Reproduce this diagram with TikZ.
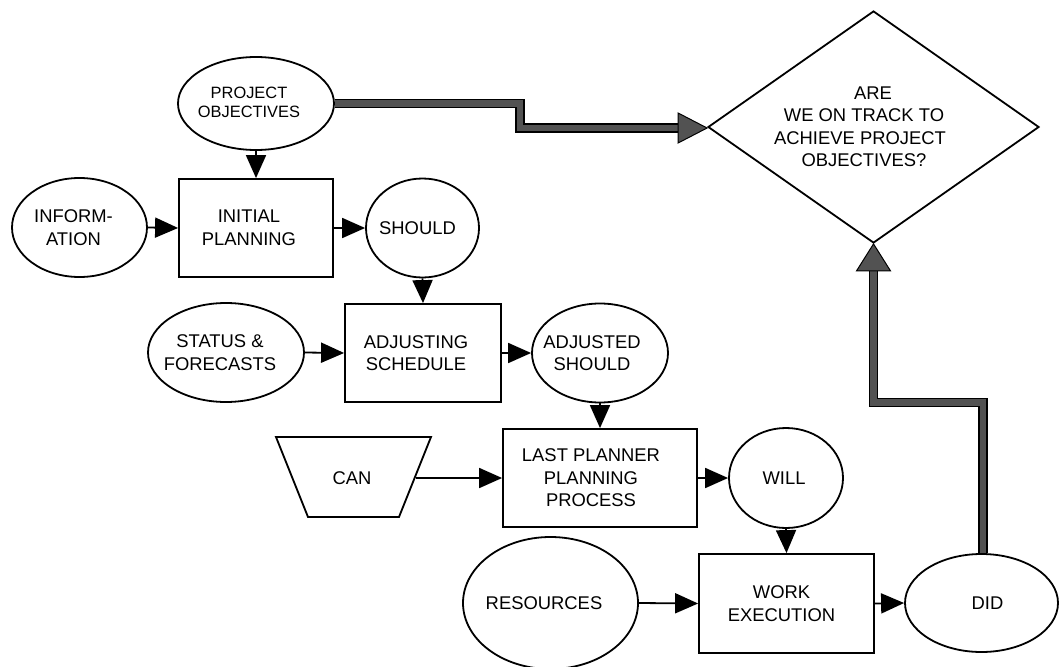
\documentclass[tikz,border=0pt]{standalone}
\usepackage{fontspec}
\setmainfont{Liberation Sans}
\usetikzlibrary{shapes.geometric, arrows.meta}

\begin{document}
\begin{tikzpicture}[x=1pt, y=-1pt,
  shp/.style={draw=black, line width=1.8pt, inner sep=0pt, fill=white},
  oval/.style={shp, ellipse},
  box/.style={shp, rectangle},
  txt/.style={align=center, inner sep=0pt, font=\fontsize{18.4}{22.5}\selectfont},
  smalltxt/.style={align=center, inner sep=0pt, font=\fontsize{16.4}{18.5}\selectfont},
  flow/.style={line width=1.8pt, -{Triangle[length=23pt, width=20pt]}},
  band/.style={draw=black, line width=9.5pt, postaction={draw=black!68, line width=6.5pt}},
  bandhead/.style={fill=black!68, draw=black, line width=1pt, line join=miter}]

% canvas
\useasboundingbox[fill=white] (0,0) rectangle (1059,666);

% shapes
\node[oval, minimum width=156pt, minimum height=93pt] (po) at (256,103.5) {};
\node[oval, minimum width=135pt, minimum height=99pt] (info) at (79.5,227.5) {};
\node[box, minimum width=154pt, minimum height=98pt] (ip) at (256,228) {};
\node[oval, minimum width=113pt, minimum height=99pt] (should) at (422.5,228) {};
\node[oval, minimum width=156pt, minimum height=99pt] (status) at (226,352.5) {};
\node[box, minimum width=156pt, minimum height=98pt] (adj) at (423,353) {};
\node[oval, minimum width=136pt, minimum height=99pt] (adjs) at (600,353) {};
\node[box, minimum width=194pt, minimum height=98pt] (lpp) at (600,478) {};
\node[oval, minimum width=114pt, minimum height=100pt] (will) at (786,478) {};
\node[oval, minimum width=175pt, minimum height=132pt] (res) at (550.5,603) {};
\node[box, minimum width=175pt, minimum height=99pt] (work) at (786.5,603.5) {};
\node[oval, minimum width=153pt, minimum height=98pt] (did) at (981.5,603) {};
\node[shp, diamond, minimum width=331pt, minimum height=232pt] (dm) at (873.5,127) {};

% the CAN trapezoid (wide side on top) and the point on its right side
\draw[line width=1.8pt, line join=miter] (276,437) -- (431,437) -- (399,517) -- (308,517) -- cycle;
\coordinate (can-r) at (415.5,478);

% labels
\node[smalltxt] (po-t) at ([xshift=-7pt, yshift=1pt]po.center) {PROJECT\\OBJECTIVES};
\node[txt] (info-t) at ([xshift=-6pt]info.center) {INFORM-\\ATION};
\node[txt] (ip-t) at ([xshift=-7pt]ip.center) {INITIAL\\PLANNING};
\node[txt] (should-t) at ([xshift=-5pt]should.center) {SHOULD};
\node[txt] (status-t) at ([xshift=-6pt]status.center) {STATUS \&\\FORECASTS};
\node[txt] (adj-t) at ([xshift=-7pt]adj.center) {ADJUSTING\\SCHEDULE};
\node[txt] (adjs-t) at ([xshift=-8pt]adjs.center) {ADJUSTED\\SHOULD};
\node[txt] (can) at (352,478) {CAN};
\node[txt] (lpp-t) at ([xshift=-9pt]lpp.center) {LAST PLANNER\\PLANNING\\PROCESS};
\node[txt] (will-t) at ([xshift=-2pt]will.center) {WILL};
\node[txt] (res-t) at ([xshift=-6.5pt]res.center) {RESOURCES};
\node[txt] (work-t) at ([xshift=-5pt]work.center) {WORK\\EXECUTION};
\node[txt] (did-t) at ([xshift=6pt]did.center) {DID};
\node[txt] (dm-t) at ([xshift=-9.5pt]dm.center)
  {\kern18pt ARE\\WE ON TRACK TO\\ACHIEVE PROJECT\kern8pt\\OBJECTIVES?};

% ordinary flow arrows
\draw[flow] (po.south) -- (ip.north);
\draw[flow] (info.east) -- (ip.west);
\draw[flow] (ip.east) -- (should.west);
\draw[flow] (should.south) -- (adj.north);
\draw[flow] (status.east) -- (adj.west);
\draw[flow] (adj.east) -- (adjs.west);
\draw[flow] (adjs.south) -- (lpp.north);
\draw[flow] (can-r) -- (lpp.west);
\draw[flow] (lpp.east) -- (will.west);
\draw[flow] (will.south) -- (work.north);
\draw[flow] (res.east) -- (work.west);
\draw[flow] (work.east) -- (did.west);

% heavy feedback arrows into the decision
\draw[band] (po.east) -| (520,115) |- ([xshift=-28pt, yshift=-1pt]dm.west);
\filldraw[bandhead] ([yshift=-1pt]dm.west) -- ++(-29,-15) -- ++(0,30) -- cycle;

\draw[band] ([xshift=1.5pt]did.north) |- (920,402.5) -| ([yshift=-26pt]dm.south);
\filldraw[bandhead] (dm.south) -- ++(-17,27) -- ++(34,0) -- cycle;
\end{tikzpicture}
\end{document}
